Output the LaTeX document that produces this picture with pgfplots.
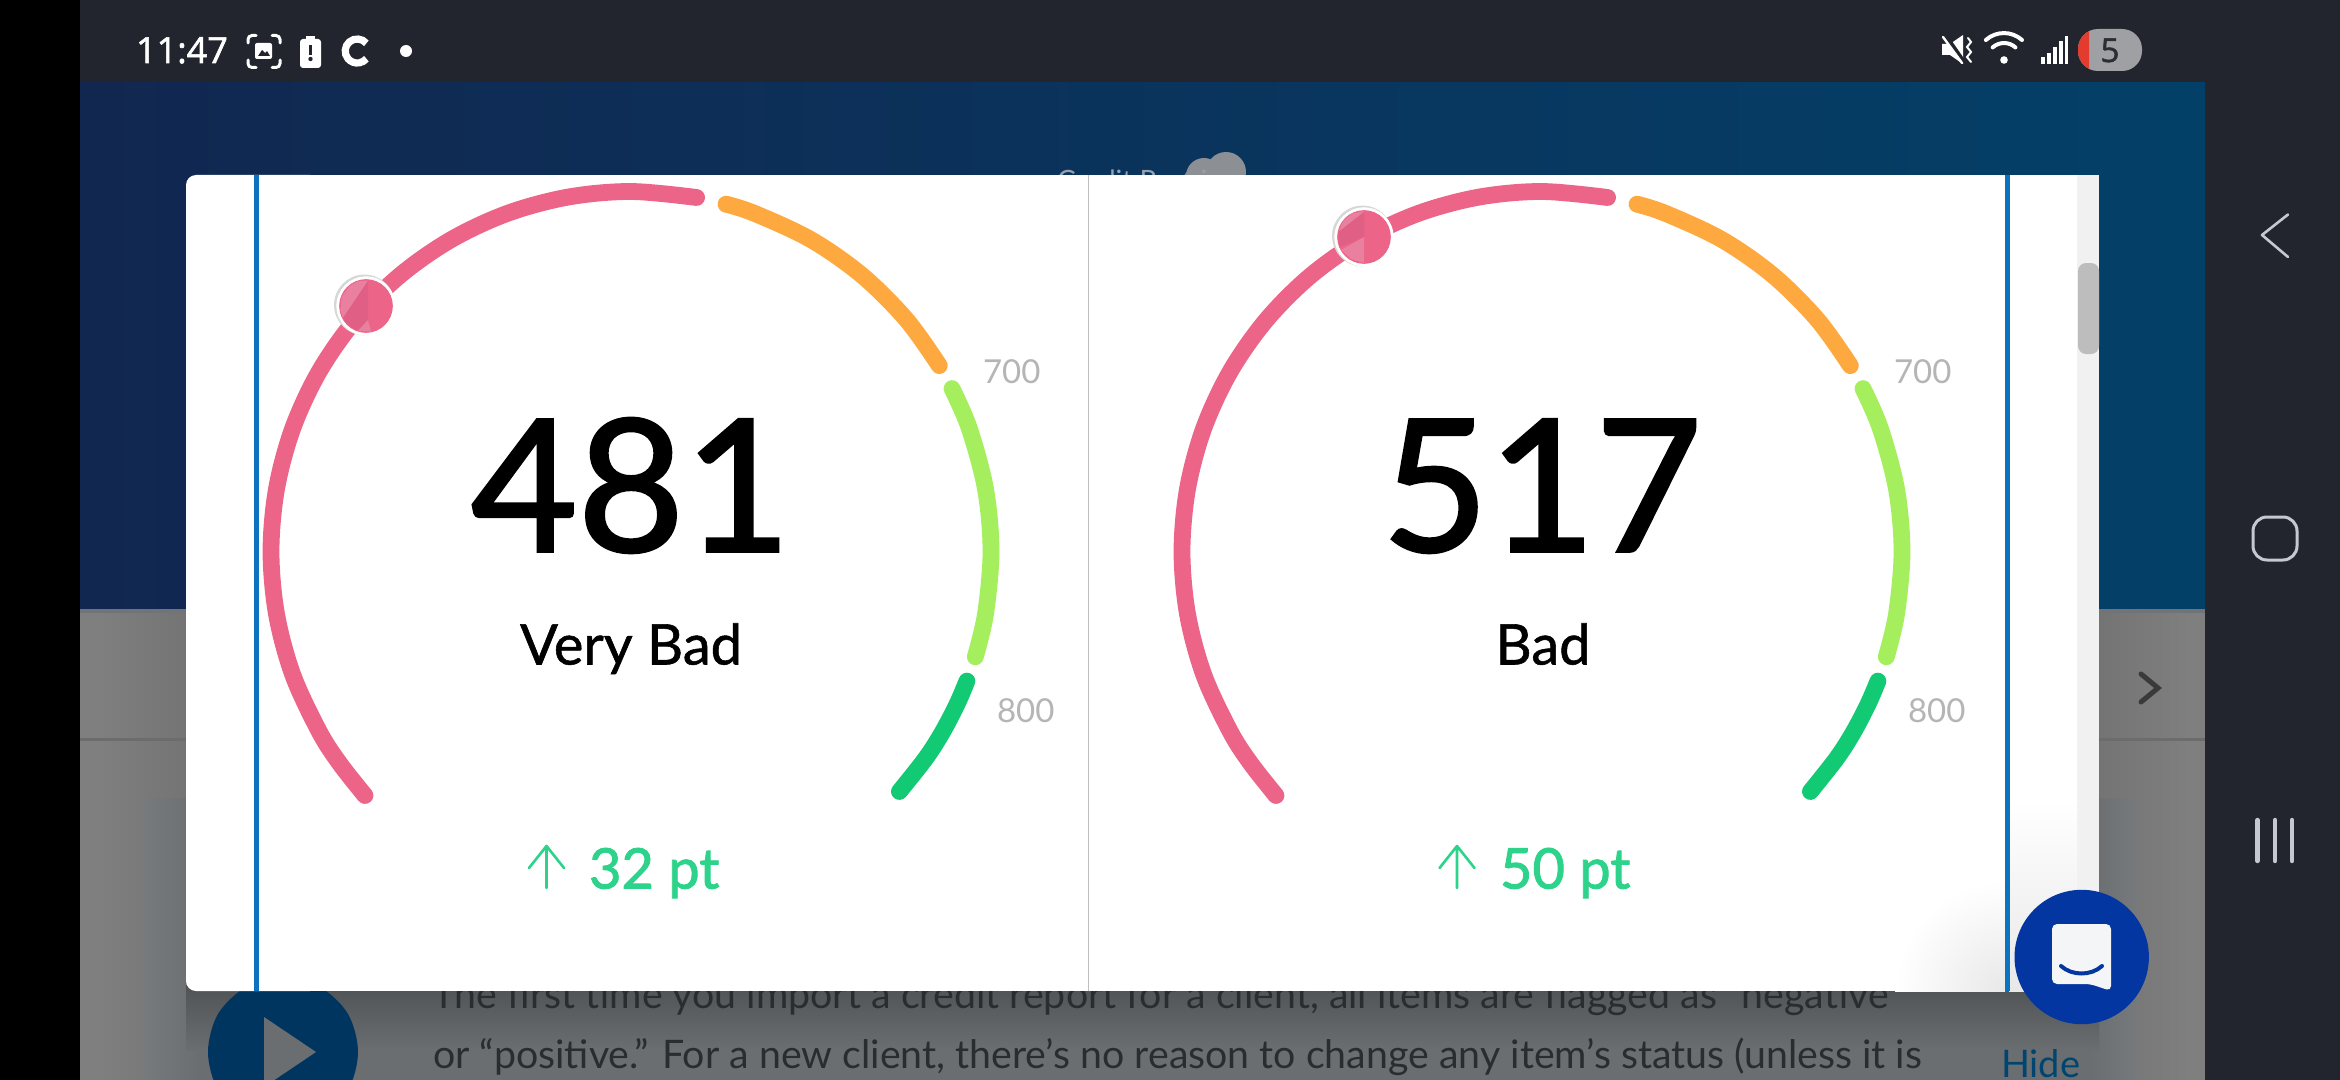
\documentclass[border=0pt]{standalone}
\usepackage{fontspec}
\usepackage{pgfplots}
\pgfplotsset{compat=1.18}
\setmainfont{Lato}
\newfontfamily\latonum[FakeBold=1.6]{Lato}
\newfontfamily\latomed[FakeBold=1.0]{Lato}
\newfontfamily\latosemi[FakeBold=1.6]{Lato}
\newfontfamily\statusfont[FakeBold=1.6]{Open Sans}
\definecolor{pinkarc}{HTML}{EC6488}
\definecolor{pinklite}{HTML}{E9809F}
\definecolor{pinkdark}{HTML}{DF5F85}
\definecolor{orangearc}{HTML}{FEA93F}
\definecolor{limearc}{HTML}{A5EF5E}
\definecolor{greenarc}{HTML}{12CA74}
\definecolor{barbg}{HTML}{22252D}
\definecolor{scrim}{HTML}{7F7F7F}
\definecolor{scrimdark}{HTML}{747474}
\definecolor{panelbg}{HTML}{6B6E71}
\definecolor{panelfade}{HTML}{777A7C}
\definecolor{bluerule}{HTML}{0D72BF}
\definecolor{chatblue}{HTML}{0336A0}
\definecolor{chatwhite}{HTML}{F4F5F7}
\definecolor{playblue}{HTML}{00355F}
\definecolor{navgrey}{HTML}{C5C8CE}
\definecolor{ticktext}{HTML}{B5B5B5}
\definecolor{ptgreen}{HTML}{2ED38B}
\definecolor{bodytext}{HTML}{2A2D30}
\definecolor{headl}{HTML}{112750}
\definecolor{headr}{HTML}{034068}
\definecolor{edgeline}{HTML}{707478}
\definecolor{bandline}{HTML}{6C6C6C}
\definecolor{shadowtop}{HTML}{505356}
\definecolor{logogrey}{HTML}{8C8F94}
\definecolor{logotext}{HTML}{96A0AF}
\definecolor{hidetext}{HTML}{00456F}
\definecolor{chevron}{HTML}{3A3A3A}
\definecolor{track}{HTML}{F1F1F1}
\definecolor{fadegrey}{HTML}{E8E8E8}
\definecolor{thumb}{HTML}{BDBDBD}
\definecolor{divider}{HTML}{BEBEBE}
\definecolor{ringgrey}{HTML}{D7D7D7}
\definecolor{pillgrey}{HTML}{9EA0A4}
\definecolor{pillred}{HTML}{E33B2E}
\definecolor{pilltext}{HTML}{2A2D33}
\tikzset{
  gaugearc/.style={line width=8.4pt, line cap=round, smooth, tension=0.55},
  txt/.style={inner sep=0pt, outer sep=0pt},
}
\begin{document}
\begin{tikzpicture}
\begin{axis}[
  scale only axis, width=1170pt, height=540pt,
  xmin=0, xmax=2340, ymin=0, ymax=1080, y dir=reverse,
  hide axis, clip=true, clip marker paths=true,
]
% ---------- screen background ----------
\fill[black] (0,0) rectangle (80,1080);
\fill[barbg] (80,0) rectangle (2340,83);
\fill[barbg] (2205,83) rectangle (2340,1080);
\path[left color=headl, right color=headr] (80,83) rectangle (2205,609);
\fill[scrim] (80,609) rectangle (2205,1080);
\path[left color=scrim, right color=scrimdark] (100,609) rectangle (186,1080);
\path[left color=scrimdark, right color=scrim] (2099,609) rectangle (2190,1080);
\fill[edgeline] (80,609) rectangle (2205,613);
\fill[bandline] (80,738) rectangle (2205,741);
\path[left color=panelfade, right color=panelbg] (145,798) rectangle (200,1080);
\fill[panelbg] (200,798) rectangle (2090,1080);
\path[left color=panelbg, right color=panelfade] (2090,798) rectangle (2138,1080);
\path[top color=shadowtop, bottom color=panelbg] (186,985) rectangle (2099,1050);
% logo peeking out behind the card
\fill[logogrey] (1204,176) circle[radius=9pt];
\fill[logogrey] (1226,172) circle[radius=10pt];
\fill[logogrey] (1192,178) circle[radius=4pt];
\node[txt, anchor=base west, text=logotext, font=\fontsize{14}{16}\selectfont] at (1057,191) {Credit Repair};
% ---------- body text behind the card ----------
\addplot[fill=playblue, draw=none, smooth cycle, tension=0.55] coordinates {
 (358,1052) (348,1090) (320,1117) (283,1127) (246,1117) (218,1090) (208,1052) (218,1014) (246,987) (283,977) (320,987) (348,1014)};
\addplot[fill=panelbg, draw=none] coordinates {(264,1017) (316,1052) (264,1087)} --cycle;
\node[txt, anchor=base west, text=bodytext, font=\fontsize{19.65}{22}\selectfont] at (432,1008.5) {The first time you import a credit report for a client, all items are flagged as “negative”};
\node[txt, anchor=base west, text=bodytext, font=\fontsize{19.65}{22}\selectfont] at (433,1068) {or “positive.” For a new client, there’s no reason to change any item’s status (unless it is};
\node[txt, anchor=base west, text=hidetext, font=\fontsize{19}{22}\selectfont] at (2001,1077) {Hide};
\draw[chevron, line width=2.5pt, line cap=round] (2141,674) -- (2158,688) -- (2141,702);
% ---------- white card ----------
\fill[white, rounded corners=5pt] (186,175) rectangle (320,991);
\fill[white] (250,175) rectangle (2099,991);
\fill[track] (2077,175) rectangle (2099,991);
\begin{scope}
\clip (1850,850) rectangle (2005,991);
\shade[inner color=fadegrey, outer color=white] (2005,991) circle[radius=55pt];
\end{scope}
\path[top color=white, bottom color=fadegrey] (2009,800) rectangle (2077,991);
\fill[thumb, rounded corners=4pt] (2078,263) rectangle (2099,354);
\fill[bluerule] (254,175) rectangle (259,991);
\fill[bluerule] (2005,175) rectangle (2009.5,991);
\fill[divider] (1087.7,175) rectangle (1089.2,991);
% ---------- left gauge ----------
\addplot[gaugearc, pinkarc] coordinates {(365.0,795.5) (339.8,763.6) (319.2,731.5) (292.7,674.6) (276.5,614) (271,551.5) (276.5,489) (292.7,428.4) (319.2,371.5) (355.2,320.1) (399.6,275.7) (451,239.7) (507.9,213.2) (568.5,197) (631,191.5) (696.6,197.5)};
\addplot[gaugearc, orangearc] coordinates {(726,204.2) (754.1,213.2) (811,239.7) (862.4,275.7) (906.8,320.1) (939.3,365.6)};
\addplot[gaugearc, limearc] coordinates {(952,388.6) (969.3,428.4) (985.5,489) (991,551.5) (985.5,614) (975.3,656.8)};
\addplot[gaugearc, greenarc] coordinates {(966.9,681.1) (957.3,703.6) (942.8,731.5) (925.9,758) (899.4,791.5)};
% score markers, left
\addplot[only marks, mark=*, mark size=15pt, color=ringgrey, mark options={fill=ringgrey}] coordinates {(364.5,305)};
\addplot[only marks, mark=*, mark size=14.6pt, color=white, mark options={fill=white}] coordinates {(366,306)};
\addplot[only marks, mark=*, mark size=13.2pt, color=pinkarc, mark options={fill=pinkarc}] coordinates {(366,306)};
\addplot[fill=pinklite, draw=none] coordinates {(368,280.5) (358,281.3) (349.3,286.1) (341.6,297.1) (340.4,310.5) (343,318)} --cycle;
\addplot[fill=pinkdark, draw=none] coordinates {(368,281) (343,318) (347,324) (357,330) (368,320)} --cycle;
\addplot[fill=pinklite, draw=none] coordinates {(368,320) (358,331) (371,331.5)} --cycle;
\node[txt, anchor=base, font=\latonum\fontsize{92}{100}\selectfont] at (631,551.4) {481};
\node[txt, anchor=base, font=\latomed\fontsize{28}{30}\selectfont] at (631,664.5) {Very Bad};
\node[txt, anchor=base west, text=ticktext, font=\fontsize{16.5}{18}\selectfont] at (983,383) {700};
\node[txt, anchor=base west, text=ticktext, font=\fontsize{16.5}{18}\selectfont] at (997,722) {800};
\draw[ptgreen, line width=1.3pt, line cap=round, line join=round] (546.5,888) -- (546.5,846) (529,868) -- (546.5,846) -- (564,868);
\node[txt, anchor=base west, text=ptgreen, font=\latosemi\fontsize{28}{30}\selectfont] at (589,888.5) {32 pt};
% ---------- right gauge ----------
\addplot[gaugearc, pinkarc] coordinates {(1276,795.5) (1250.8,763.6) (1230.2,731.5) (1203.7,674.6) (1187.5,614) (1182,551.5) (1187.5,489) (1203.7,428.4) (1230.2,371.5) (1266.2,320.1) (1310.6,275.7) (1362,239.7) (1418.9,213.2) (1479.5,197) (1542,191.5) (1607.6,197.5)};
\addplot[gaugearc, orangearc] coordinates {(1637,204.2) (1665.1,213.2) (1722,239.7) (1773.4,275.7) (1817.8,320.1) (1850.3,365.6)};
\addplot[gaugearc, limearc] coordinates {(1863,388.6) (1880.3,428.4) (1896.5,489) (1902,551.5) (1896.5,614) (1886.3,656.8)};
\addplot[gaugearc, greenarc] coordinates {(1877.9,681.1) (1868.3,703.6) (1853.8,731.5) (1836.9,758) (1810.4,791.5)};
\addplot[only marks, mark=*, mark size=15pt, color=ringgrey, mark options={fill=ringgrey}] coordinates {(1362.5,236)};
\addplot[only marks, mark=*, mark size=14.6pt, color=white, mark options={fill=white}] coordinates {(1364,237)};
\addplot[only marks, mark=*, mark size=13.2pt, color=pinkarc, mark options={fill=pinkarc}] coordinates {(1364,237)};
\addplot[fill=pinklite, draw=none] coordinates {(1364,211) (1352,213.5) (1343,221) (1338.5,232) (1364,212)} --cycle;
\addplot[fill=pinkdark, draw=none] coordinates {(1338.5,232) (1364,212) (1364,237) (1339.5,247)} --cycle;
\addplot[fill=pinklite, draw=none] coordinates {(1341,250) (1364,237) (1364,263) (1351,259)} --cycle;
\node[txt, anchor=base, font=\latonum\fontsize{92}{100}\selectfont] at (1542,551.4) {517};
\node[txt, anchor=base, font=\latomed\fontsize{28}{30}\selectfont] at (1543,664.5) {Bad};
\node[txt, anchor=base west, text=ticktext, font=\fontsize{16.5}{18}\selectfont] at (1894,383) {700};
\node[txt, anchor=base west, text=ticktext, font=\fontsize{16.5}{18}\selectfont] at (1908,722) {800};
\draw[ptgreen, line width=1.3pt, line cap=round, line join=round] (1457,888) -- (1457,846) (1439.5,868) -- (1457,846) -- (1474.5,868);
\node[txt, anchor=base west, text=ptgreen, font=\latosemi\fontsize{28}{30}\selectfont] at (1500,888.5) {50 pt};
% ---------- chat button ----------
\fill[chatblue] (2081.7,957) circle[radius=33.6pt];
\fill[chatwhite, rounded corners=2.5pt] (2052,924) -- (2111,924) -- (2111,941) -- (2111,991) -- (2090,984) -- (2052,984) -- cycle;
\draw[chatblue, line width=2pt, line cap=round] (2061,966) .. controls (2072,976) and (2091,976) .. (2102,966);
% ---------- status bar ----------
\node[txt, anchor=base west, text=white, font=\statusfont\fontsize{18}{20}\selectfont] at (136,63) {11:47};
\draw[white, line width=1.5pt, line cap=round, rounded corners=2pt]
  (248,43) -- (248,35.5) -- (256,35.5) (272,35.5) -- (280,35.5) -- (280,43)
  (280,60) -- (280,67.5) -- (272,67.5) (256,67.5) -- (248,67.5) -- (248,60);
\fill[white, rounded corners=1pt] (255,43) rectangle (272,59);
\fill[barbg] (258,56) -- (262,50) -- (265,53) -- (267,51) -- (270,56) -- cycle;
\fill[white, rounded corners=1.5pt] (300,39) rectangle (321,68);
\fill[white] (306,36) rectangle (315,40);
\fill[barbg] (309,45) rectangle (312,55);
\fill[barbg] (310.5,59) circle[radius=1.1pt];
\draw[white, line width=3.6pt] (366.4,43.3) arc[start angle=40, end angle=320, radius=6pt];
\fill[white] (406,51) circle[radius=3pt];
% sound off
\fill[white] (1942,44) -- (1950,44) -- (1963,35) -- (1963,64) -- (1950,55) -- (1942,55) -- cycle;
\draw[barbg, line width=2pt] (1946,36) -- (1964,62);
\draw[white, line width=1.2pt, line cap=round] (1943,37) -- (1962,63);
\draw[white, line width=1pt, line cap=round] (1968,38) -- (1971,42) -- (1967,47) -- (1971,52) -- (1967,57) -- (1971,62);
% wifi
\draw[white, line width=2pt, line cap=round] (2022,40) arc[start angle=48, end angle=132, radius=13.5pt];
\draw[white, line width=2pt, line cap=round] (2015.4,47.4) arc[start angle=48, end angle=132, radius=8.5pt];
\fill[white] (2004,60) circle[radius=1.9pt];
% signal bars
\fill[white] (2041,57) rectangle (2044.6,64);
\fill[white] (2047,53) rectangle (2050.6,64);
\fill[white] (2053,47) rectangle (2056.6,64);
\fill[white] (2059,41) rectangle (2062.6,64);
\fill[white] (2064.5,36) rectangle (2068,64);
% battery pill
\fill[pillgrey, rounded corners=10pt] (2078,29) rectangle (2142,71);
\begin{scope}
\clip (2078,29) rectangle (2089,71);
\fill[pillred, rounded corners=10pt] (2078,29) rectangle (2142,71);
\end{scope}
\node[txt, anchor=base, text=pilltext, font=\statusfont\fontsize{16.5}{18}\selectfont] at (2110,62) {5};
% ---------- navigation ----------
\draw[navgrey, line width=1.3pt, line cap=round, line join=round] (2288,214.5) -- (2262,235) -- (2288,257);
\draw[navgrey, line width=1.5pt, rounded corners=7pt] (2253,517) rectangle (2297,560);
\draw[navgrey, line width=2.2pt, line cap=round] (2257.5,820) -- (2257.5,861);
\draw[navgrey, line width=2.2pt, line cap=round] (2275,820) -- (2275,861);
\draw[navgrey, line width=2.2pt, line cap=round] (2292,820) -- (2292,861);
\end{axis}
\end{tikzpicture}
\end{document}
